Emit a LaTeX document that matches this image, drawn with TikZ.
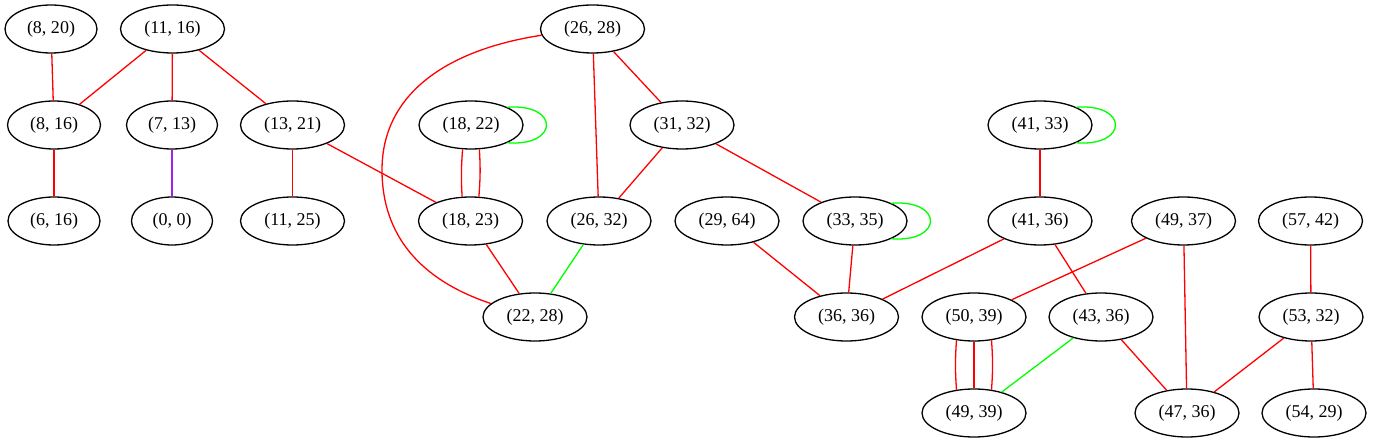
\documentclass[tikz,border=0pt]{standalone}
\usepackage{fontspec}
\setmainfont{Liberation Serif}
\usetikzlibrary{shapes.geometric}
\definecolor{gvred}{RGB}{255,0,0}
\definecolor{gvgreen}{RGB}{0,255,0}
\definecolor{gvpurple}{RGB}{160,32,240}
\tikzset{
  gn/.style={draw=black, ellipse, line width=1.3pt, inner sep=0pt,
    minimum width=104pt, minimum height=48pt,
    font=\fontsize{18}{20}\selectfont},
  re/.style={draw=gvred, line width=1.3pt},
  ge/.style={draw=gvgreen, line width=1.3pt},
  pe/.style={draw=gvpurple, line width=1.3pt}
}
\begin{document}
\begin{tikzpicture}[x=1pt,y=-1pt]
\useasboundingbox (0,0) rectangle (1373,443);
% nodes
\node[gn, minimum width=92pt] (n820) at (51,29) {(8, 20)};
\node[gn] (n1116) at (172.5,29) {(11, 16)};
\node[gn, minimum width=93pt] (n816) at (54,125) {(8, 16)};
\node[gn, minimum width=91pt] (n713) at (172,125) {(7, 13)};
\node[gn] (n1321) at (292.5,125) {(13, 21)};
\node[gn, minimum width=92pt] (n616) at (54,221) {(6, 16)};
\node[gn, minimum width=81pt] (n00) at (172,221) {(0, 0)};
\node[gn] (n1125) at (292.5,221) {(11, 25)};
\node[gn] (n1822) at (471,125) {(18, 22)};
\node[gn] (n1823) at (470.5,221) {(18, 23)};
\node[gn] (n2628) at (592.5,29) {(26, 28)};
\node[gn] (n3132) at (682,125) {(31, 32)};
\node[gn] (n2632) at (599,221) {(26, 32)};
\node[gn] (n2964) at (727,221) {(29, 64)};
\node[gn] (n3335) at (855,221) {(33, 35)};
\node[gn] (n2228) at (535,317) {(22, 28)};
\node[gn] (n3636) at (846.5,317) {(36, 36)};
\node[gn] (n4133) at (1040,125) {(41, 33)};
\node[gn] (n4136) at (1040,221) {(41, 36)};
\node[gn] (n4937) at (1183.5,221) {(49, 37)};
\node[gn] (n5742) at (1310.5,221) {(57, 42)};
\node[gn] (n5039) at (974,317) {(50, 39)};
\node[gn] (n4336) at (1101,317) {(43, 36)};
\node[gn] (n5332) at (1311,317) {(53, 32)};
\node[gn] (n4939) at (974,413) {(49, 39)};
\node[gn] (n4736) at (1187,413) {(47, 36)};
\node[gn] (n5429) at (1314,413) {(54, 29)};
% edges
\draw[re] (n820) -- (n816);
\draw[re] (n1116) -- (n816);
\draw[re] (n1116) -- (n713);
\draw[re] (n1116) -- (n1321);
\draw[re] (n816) -- (n616);
\draw[pe] (n713) -- (n00);
\draw[re] (n1321) -- (n1125);
\draw[re] (n1321) -- (n1823);
\draw[re] (n1822.251) to[bend right=4] (n1823.109);
\draw[re] (n1822.289) to[bend left=4] (n1823.71);
\draw[ge] (n1822.26) .. controls +(52,-4) and +(52,4) .. (n1822.-26);
\draw[re] (n2628.187) .. controls (445,50) and (382,95) .. (382,170)
  .. controls (382,235) and (420,280) .. (n2228.163);
\draw[re] (n2628) -- (n3132);
\draw[re] (n2628) -- (n2632);
\draw[re] (n3132) -- (n2632);
\draw[re] (n3132) -- (n3335);
\draw[ge] (n3335.26) .. controls +(52,-4) and +(52,4) .. (n3335.-26);
\draw[re] (n1823) -- (n2228);
\draw[ge] (n2632) -- (n2228);
\draw[re] (n2964) -- (n3636);
\draw[re] (n3335) -- (n3636);
\draw[ge] (n4133.26) .. controls +(52,-4) and +(52,4) .. (n4133.-26);
\draw[re] (n4133) -- (n4136);
\draw[re] (n4136) -- (n3636);
\draw[re] (n4136) -- (n4336);
\draw[re] (n4937) -- (n5039);
\draw[re] (n4937) -- (n4736);
\draw[re] (n5742) -- (n5332);
\draw[re] (n5039.233) to[bend right=4] (n4939.127);
\draw[re] (n5039) -- (n4939);
\draw[re] (n5039.307) to[bend left=4] (n4939.53);
\draw[ge] (n4336) -- (n4939);
\draw[re] (n4336) -- (n4736);
\draw[re] (n5332) -- (n4736);
\draw[re] (n5332) -- (n5429);
\end{tikzpicture}
\end{document}
